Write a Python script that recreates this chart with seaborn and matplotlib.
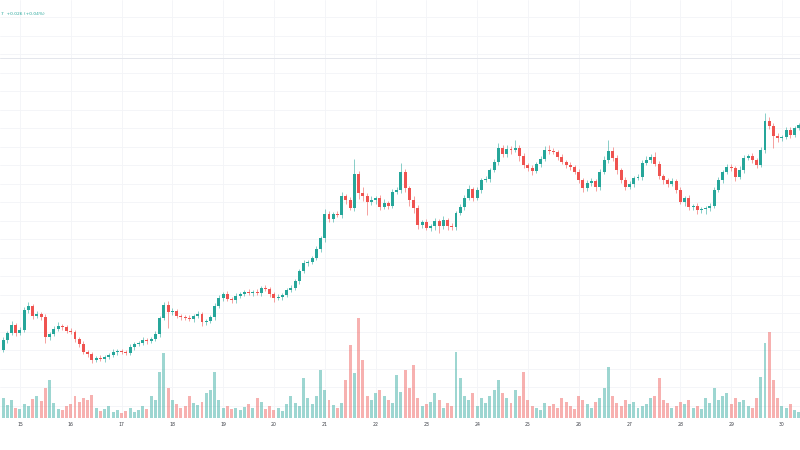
import numpy as np
import pandas as pd
import matplotlib
matplotlib.use("Agg")
import matplotlib.pyplot as plt
from matplotlib.ticker import MultipleLocator
import seaborn as sns

# 2h candles, from the 14th 14:00 to the 30th 08:00
days = list(range(15, 31))
day_start_idx = 5          # candle index that opens on the 15th, 00:00
candles_per_day = 12

close = [100, 110, 117, 125, 117, 120, 140, 144, 134, 136,
         133, 113, 116, 121, 124, 123, 119, 118, 111, 106,
         98, 96, 90, 92, 91, 93, 95, 98, 99, 98,
         97, 103, 106, 107, 110, 109, 111, 116, 132, 145,
         138, 139, 134, 133, 132, 131, 134, 136, 128, 129,
         133, 144, 152, 156, 151, 150, 154, 156, 158, 157,
         158, 157, 162, 161, 156, 152, 153, 155, 160, 162,
         169, 179, 187, 188, 192, 201, 212, 236, 231, 236,
         235, 254, 250, 242, 276, 257, 254, 248, 250, 252,
         243, 247, 244, 258, 260, 278, 262, 250, 242, 225,
         228, 222, 224, 229, 224, 230, 224, 223, 237, 243,
         252, 261, 252, 260, 270, 271, 280, 288, 302, 296,
         301, 300, 302, 294, 285, 282, 279, 286, 291, 300,
         299, 298, 293, 288, 285, 283, 278, 270, 262, 267,
         269, 263, 278, 290, 299, 292, 280, 270, 263, 266,
         272, 273, 287, 290, 293, 286, 274, 270, 266, 269,
         260, 248, 252, 243, 244, 240, 241, 242, 244, 260,
         270, 278, 283, 282, 273, 280, 292, 294, 290, 285,
         300, 329, 324, 314, 312, 313, 320, 315, 322, 325]
first_open = 98

upper_wick = [2, 3, 2, 4, 2, 3, 3, 4, 2, 3,
              2, 3, 2, 3, 4, 2, 2, 3, 2, 2,
              3, 2, 2, 2, 3, 2, 2, 3, 2, 2,
              2, 3, 2, 2, 3, 2, 2, 3, 2, 3,
              4, 3, 2, 2, 2, 3, 2, 3, 2, 2,
              2, 3, 3, 2, 3, 2, 3, 2, 2, 3,
              2, 3, 2, 3, 2, 2, 3, 2, 2, 3,
              2, 2, 3, 2, 2, 3, 2, 5, 3, 2,
              3, 4, 2, 3, 15, 3, 6, 3, 4, 2,
              3, 4, 2, 3, 3, 9, 3, 2, 4, 3,
              2, 3, 2, 3, 2, 4, 2, 3, 2, 3,
              3, 4, 2, 3, 2, 3, 2, 3, 5, 3,
              4, 3, 8, 3, 3, 2, 3, 2, 3, 4,
              5, 3, 2, 3, 2, 3, 2, 3, 2, 3,
              3, 2, 3, 4, 11, 4, 3, 2, 3, 3,
              2, 3, 3, 4, 3, 5, 3, 2, 2, 3,
              2, 3, 2, 3, 2, 3, 2, 2, 3, 3,
              3, 2, 3, 3, 2, 4, 3, 2, 3, 2,
              3, 8, 4, 3, 3, 2, 3, 3, 2, 2]

lower_wick = [3, 2, 3, 2, 3, 2, 2, 3, 3, 2,
              3, 6, 3, 2, 2, 3, 2, 2, 3, 3,
              2, 3, 3, 2, 2, 3, 2, 2, 3, 2,
              2, 2, 3, 2, 2, 3, 2, 2, 3, 2,
              16, 3, 2, 3, 2, 2, 3, 2, 4, 3,
              2, 3, 2, 3, 2, 3, 3, 2, 2, 2,
              3, 2, 3, 2, 3, 4, 2, 3, 2, 2,
              2, 3, 2, 3, 2, 2, 3, 4, 3, 3,
              2, 3, 4, 2, 3, 6, 5, 13, 3, 4,
              3, 2, 3, 2, 2, 3, 4, 6, 5, 4,
              3, 2, 3, 4, 7, 3, 4, 3, 3, 2,
              3, 2, 3, 2, 3, 2, 3, 2, 3, 3,
              3, 4, 2, 5, 3, 3, 4, 2, 3, 2,
              3, 2, 3, 2, 3, 3, 2, 3, 4, 3,
              3, 4, 3, 2, 3, 3, 4, 3, 3, 2,
              3, 2, 3, 2, 3, 2, 3, 4, 3, 2,
              3, 2, 4, 3, 3, 4, 3, 5, 3, 2,
              2, 3, 2, 3, 4, 2, 3, 2, 3, 3,
              2, 3, 3, 12, 4, 3, 2, 3, 2, 2]

volume = [16, 20, 13, 18, 10, 9, 14, 12, 19, 22,
          17, 30, 38, 15, 9, 8, 12, 14, 22, 16,
          20, 18, 23, 10, 7, 9, 12, 6, 8, 5,
          7, 10, 6, 8, 12, 9, 22, 18, 46, 65,
          30, 18, 14, 10, 12, 22, 15, 13, 16, 25,
          28, 46, 18, 10, 12, 9, 10, 8, 11, 14,
          10, 20, 16, 9, 12, 8, 10, 7, 14, 22,
          15, 12, 40, 20, 14, 22, 48, 28, 18, 13,
          10, 15, 38, 73, 45, 100, 58, 22, 18, 25,
          28, 22, 18, 15, 43, 26, 48, 30, 53, 20,
          12, 14, 16, 25, 18, 10, 15, 12, 66, 40,
          22, 18, 25, 12, 20, 15, 22, 28, 38, 25,
          20, 15, 28, 22, 46, 18, 12, 10, 8, 15,
          12, 14, 10, 20, 16, 12, 9, 22, 18, 14,
          10, 16, 20, 30, 51, 22, 15, 12, 18, 14,
          16, 10, 12, 14, 20, 22, 40, 18, 15, 10,
          12, 16, 14, 18, 10, 12, 9, 20, 15, 30,
          18, 22, 25, 14, 20, 16, 18, 12, 10, 20,
          41, 75, 86, 38, 20, 12, 10, 14, 8, 6]

UP = "#26a69a"
DOWN = "#ef5350"

close = np.array(close, dtype=float)
opn = np.concatenate([[first_open], close[:-1]])
high = np.maximum(opn, close) + np.array(upper_wick)
low = np.minimum(opn, close) - np.array(lower_wick)
idx = np.arange(len(close))
direction = np.where(close >= opn, "up", "down")
colors = np.where(direction == "up", UP, DOWN)

body = close - opn
body = np.where(np.abs(body) < 0.9, 0.9, body)

sns.set_theme(style="white")

fig = plt.figure(figsize=(8, 4.5), dpi=100)
ax = fig.add_axes([0, 32 / 450, 1, 418 / 450])

ax.vlines(idx, low, high, color=colors, lw=0.7, alpha=0.55, zorder=2)
ax.bar(idx, body, bottom=opn, width=0.7, color=colors, linewidth=0, zorder=3)

ax.set_ylim(32, 450)
ax.set_xlim(0.28, 189.27)

ax.yaxis.set_major_locator(MultipleLocator(18.5, offset=7.5))
ax.set_xticks([day_start_idx + candles_per_day * k for k in range(len(days))])
ax.set_xticklabels([str(d) for d in days])
ax.grid(True, color="#f3f4f7", lw=0.6)
ax.tick_params(axis="x", length=0, pad=3, labelsize=3.3, labelcolor="#3b3e46")
ax.tick_params(axis="y", length=0, labelleft=False)
ax.axhline(392, color="#e4e6ec", lw=0.7, zorder=1)
for s in ax.spines.values():
    s.set_visible(False)

axv = ax.twinx()
vol_df = pd.DataFrame({"i": idx, "volume": volume, "dir": direction})
sns.barplot(data=vol_df, x="i", y="volume", hue="dir",
            palette={"up": UP, "down": DOWN}, native_scale=True, dodge=False,
            width=0.7, saturation=1, alpha=0.45, errorbar=None, legend=False,
            linewidth=0, ax=axv)
axv.set_ylim(0, 418)
axv.set_xlim(0.28, 189.27)
axv.set_xlabel("")
axv.set_ylabel("")
axv.tick_params(axis="y", length=0, labelright=False)
for s in axv.spines.values():
    s.set_visible(False)
ax.set_xlabel("")

fig.text(0.001, 1 - 14 / 450, "7  +0.026 (+0.04%)", color=UP,
         fontsize=3.2, ha="left", va="center")

fig.savefig("out.png", dpi=100, facecolor="white")
